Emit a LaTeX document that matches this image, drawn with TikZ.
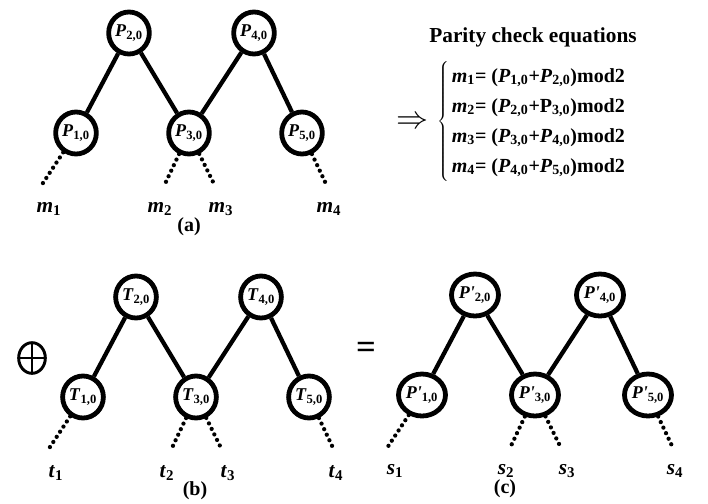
\documentclass[tikz,border=0pt]{standalone}
\usepackage{fontspec}
\setmainfont{Liberation Serif}
\usepackage{tikz}
\usetikzlibrary{shapes.geometric}
\newcommand{\nodelab}[2]{\textit{#1}\textsubscript{#2}}
\tikzset{
  treenode/.style={ellipse, draw, line width=3.6pt, inner sep=0.3pt,
    minimum width=30.5pt, minimum height=31.5pt,
    font=\bfseries\fontsize{13.5}{13.5}\selectfont},
  treeedge/.style={line width=3.2pt},
  dotedge/.style={line width=3.2pt, line cap=round, dash pattern=on 0pt off 4.6pt},
  leaflab/.style={font=\bfseries\fontsize{16}{16}\selectfont},
  caplab/.style={font=\bfseries\fontsize{15}{15}\selectfont},
  xorsign/.style={ellipse, draw, line width=2.2pt, minimum width=20pt, minimum height=23pt,
    path picture={\draw[line width=2.2pt]
      (path picture bounding box.north) -- (path picture bounding box.south)
      (path picture bounding box.west) -- (path picture bounding box.east);}}
}
\begin{document}
\begin{tikzpicture}[x=0.75pt,y=-0.75pt]
  \useasboundingbox (0,0) rectangle (708,504);
  % three trees: (a) parity, (b) tags, (c) result
  \foreach \tr/\ox/\oy/\nm/\lf/\cx in {
    a/76/133/P/m/189,
    b/83/397/T/t/195,
    c/422/395/P\textquotesingle/s/505} {
    \begin{scope}[shift={(\ox,\oy)}]
      \foreach \i/\x/\y in {1/0/0, 2/53/-100, 3/113/0, 4/178/-100, 5/226/0}
        \node[treenode] (\tr\i) at (\x,\y) {\nodelab{\nm}{\i,0}};
      \foreach \i/\j in {1/2, 2/3, 3/4, 4/5}
        \draw[treeedge] (\tr\i) -- (\tr\j);
      \foreach \k/\i/\x/\lx in {1/1/-35/-27, 2/3/88/84, 3/3/139/145, 4/5/251/253} {
        \coordinate (\tr e\k) at (\x,53);
        \draw[dotedge] (\tr\i) -- (\tr e\k);
        \node[leaflab] (\tr l\k) at (\lx,76) {\nodelab{\lf}{\k}};
      }
      \node[caplab] (\tr cap) at (\cx-\ox,94) {(\tr)};
    \end{scope}
  }
  % parity check equations
  \node[font=\bfseries\fontsize{16}{16}\selectfont] (title) at (533,37) {Parity check equations};
  \node (impl) at (412,123) {\scalebox{2.4}{$\Rightarrow$}};
  \node[anchor=west, inner sep=0pt, font=\bfseries\fontsize{15}{22.5}\selectfont] (eqs) at (437,121)
    {$\left\{\hspace{2pt}\begin{tabular}{@{}l@{}}
      \nodelab{m}{1}= (\nodelab{P}{1,0}+\nodelab{P}{2,0})mod2\\
      \nodelab{m}{2}= (\nodelab{P}{2,0}+P\textsubscript{3,0})mod2\\
      \nodelab{m}{3}= (\nodelab{P}{3,0}+\nodelab{P}{4,0})mod2\\
      \nodelab{m}{4}= (\nodelab{P}{4,0}+\nodelab{P}{5,0})mod2
    \end{tabular}\right.$};
  % operators between (b) and (c)
  \node[xorsign] (xor) at (32,358) {};
  \node[font=\bfseries\fontsize{26}{26}\selectfont] (eq) at (366,350) {=};
\end{tikzpicture}
\end{document}
